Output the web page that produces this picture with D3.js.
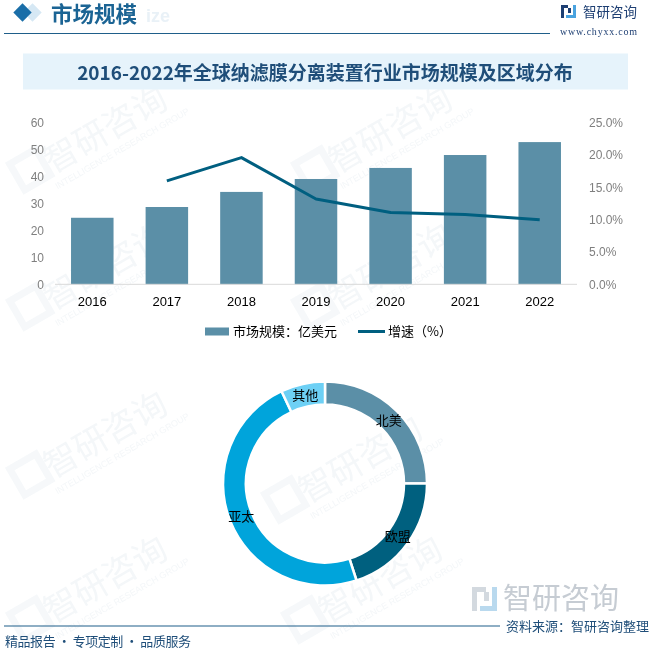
<!DOCTYPE html>
<html><head><meta charset="utf-8">
<script src="https://cdn.jsdelivr.net/npm/d3@7"></script>
<style>
html,body{margin:0;padding:0;background:#fff;}
svg{display:block;}
</style></head>
<body>
<script>
// ---- data ----
const years = ["2016","2017","2018","2019","2020","2021","2022"];
const marketSize = [24.7, 28.7, 34.3, 39.1, 43.2, 48.0, 52.8];   // 亿美元
const growth = [null, 16.0, 19.6, 13.2, 11.1, 10.8, 10.0];        // %
const leftTicks = [0,10,20,30,40,50,60];
const rightTicks = [0,5,10,15,20,25];
const regions = ["北美","欧盟","亚太","其他"];
const regionShare = [25, 20, 48, 7];
const regionColors = ["#5b8fa7","#00607f","#00a4db","#6dd0f5"];

const W = 652, H = 651;
const svg = d3.select("body").append("svg").attr("width", W).attr("height", H);
const CJK = "'Noto Sans CJK SC','Noto Sans',sans-serif";

// ---- watermark ----
const wm = svg.append("g").attr("opacity", 0.45);
const wmPos = [[120,135],[405,135],[120,272],[405,272],[375,465],[120,440],[120,585],[395,585]];
wmPos.forEach(([x,y])=>{
  const g = wm.append("g").attr("transform",`translate(${x},${y}) rotate(-30)`);
  g.append("text").attr("x",-10).attr("y",0).attr("font-family",CJK).attr("font-size",34)
   .attr("fill","#e6ecf1").attr("text-anchor","middle").text("智研咨询");
  g.append("text").attr("x",-5).attr("y",16).attr("font-family","Liberation Sans").attr("font-size",9)
   .attr("fill","#e6ecf1").attr("text-anchor","middle").text("INTELLIGENCE RESEARCH GROUP");
  g.append("rect").attr("x",-110).attr("y",-30).attr("width",30).attr("height",30).attr("fill","none")
   .attr("stroke","#eaf0f4").attr("stroke-width",7);
});

// ---- header ----
svg.append("rect").attr("x",26).attr("y",6).attr("width",13).attr("height",13)
  .attr("transform","rotate(45 32.5 12.5)").attr("fill","#d6e8f4");
svg.append("rect").attr("x",16).attr("y",6).attr("width",13).attr("height",13)
  .attr("transform","rotate(45 22.5 12.5)").attr("fill","#1a6ea8");
svg.append("text").attr("x",146).attr("y",22).attr("font-family","Liberation Sans").attr("font-weight","bold")
  .attr("font-size",18).attr("fill","#e9f1f7").text("ize");
svg.append("text").attr("x",51).attr("y",22).attr("font-family",CJK).attr("font-weight","bold")
  .attr("font-size",21.5).attr("fill","#1b6494").text("市场规模");
svg.append("line").attr("x1",4).attr("x2",550).attr("y1",33.5).attr("y2",33.5)
  .attr("stroke","#1f5f8a").attr("stroke-width",1.2);
// logo top right
const lg = svg.append("g");
lg.append("rect").attr("x",561).attr("y",5).attr("width",7).attr("height",3).attr("fill","#1e3f73");
lg.append("rect").attr("x",561).attr("y",5).attr("width",3).attr("height",13).attr("fill","#1e3f73");
lg.append("rect").attr("x",568).attr("y",8).attr("width",3).attr("height",5).attr("fill","#1e3f73");
lg.append("rect").attr("x",573).attr("y",5).attr("width",3).attr("height",13).attr("fill","#4aa3df");
lg.append("rect").attr("x",566).attr("y",15).attr("width",10).attr("height",3).attr("fill","#4aa3df");
svg.append("text").attr("x",583).attr("y",17).attr("font-family",CJK).attr("font-size",13.5)
  .attr("fill","#1e3f73").text("智研咨询");
svg.append("text").attr("x",560).attr("y",35).attr("font-family","'Liberation Serif',serif").attr("font-size",10)
  .attr("fill","#1e3f73").attr("textLength",77).text("www.chyxx.com");

// ---- title banner ----
svg.append("rect").attr("x",23).attr("y",53.5).attr("width",605).attr("height",36).attr("fill","#e6f3fb");
svg.append("text").attr("x",325).attr("y",79.5).attr("text-anchor","middle").attr("font-family",CJK)
  .attr("font-weight","bold").attr("font-size",19).attr("fill","#1f4e79")
  .text("2016-2022年全球纳滤膜分离装置行业市场规模及区域分布");

// ---- combo chart ----
const x = d3.scaleBand().domain(years).range([55,577]).paddingInner(0.43).paddingOuter(0.215);
const yL = d3.scaleLinear().domain([0,60]).range([284.3,122.7]);
const yR = d3.scaleLinear().domain([0,25]).range([284.3,122.7]);

svg.append("g").selectAll("rect").data(marketSize).join("rect")
  .attr("x",(d,i)=>x(years[i])).attr("width",x.bandwidth())
  .attr("y",d=>yL(d)).attr("height",d=>yL(0)-yL(d)).attr("fill","#5b8fa7");

svg.append("line").attr("x1",55).attr("x2",577).attr("y1",yL(0)).attr("y2",yL(0))
  .attr("stroke","#d9d9d9").attr("stroke-width",1);

const axL = svg.append("g").attr("transform","translate(44,0)")
  .call(d3.axisLeft(yL).tickValues(leftTicks).tickSize(0).tickPadding(0));
axL.select(".domain").remove();
axL.selectAll("text").attr("font-family","'Liberation Sans',sans-serif").attr("font-size",12).attr("fill","#7f7f7f");

const axR = svg.append("g").attr("transform","translate(589,0)")
  .call(d3.axisRight(yR).tickValues(rightTicks).tickSize(0).tickPadding(0).tickFormat(d=>d.toFixed(1)+"%"));
axR.select(".domain").remove();
axR.selectAll("text").attr("font-family","'Liberation Sans',sans-serif").attr("font-size",12).attr("fill","#7f7f7f");

const axB = svg.append("g").attr("transform",`translate(0,${yL(0)})`)
  .call(d3.axisBottom(x).tickSize(0).tickPadding(12));
axB.select(".domain").remove();
axB.selectAll("text").attr("font-family","'Liberation Sans',sans-serif").attr("font-size",13).attr("fill","#000");

const lineGen = d3.line().defined(d=>d.v!=null).x(d=>x(d.k)+x.bandwidth()/2).y(d=>yR(d.v));
svg.append("path").datum(years.map((k,i)=>({k,v:growth[i]})))
  .attr("d",lineGen).attr("fill","none").attr("stroke","#005f80").attr("stroke-width",3)
  .attr("stroke-linejoin","round");

// legend
svg.append("rect").attr("x",205).attr("y",327.5).attr("width",24).attr("height",8).attr("fill","#5b8fa7");
svg.append("text").attr("x",233).attr("y",336).attr("font-family",CJK).attr("font-size",13).attr("fill","#000").text("市场规模：亿美元");
svg.append("line").attr("x1",358).attr("x2",385).attr("y1",331.5).attr("y2",331.5).attr("stroke","#005f80").attr("stroke-width",3);
svg.append("text").attr("x",388).attr("y",336).attr("font-family",CJK).attr("font-size",13).attr("fill","#000").text("增速（%）");

// ---- donut ----
const cx = 325, cy = 483.5;
const pie = d3.pie().sort(null).value(d=>d)(regionShare);
const arc = d3.arc().innerRadius(79).outerRadius(102);
const lblArc = d3.arc().innerRadius(90).outerRadius(90);
const dg = svg.append("g").attr("transform",`translate(${cx},${cy})`);
dg.selectAll("path").data(pie).join("path").attr("d",arc)
  .attr("fill",(d,i)=>regionColors[i]).attr("stroke","#fff").attr("stroke-width",2.5);
dg.selectAll("text").data(pie).join("text")
  .attr("transform",d=>`translate(${lblArc.centroid(d)})`).attr("text-anchor","middle").attr("dy","0.36em")
  .attr("font-family",CJK).attr("font-size",13).attr("fill","#000").text((d,i)=>regions[i]);

// ---- footer ----
const fg = svg.append("g");
fg.append("rect").attr("x",472).attr("y",587).attr("width",14).attr("height",5).attr("fill","#d3d9df");
fg.append("rect").attr("x",472).attr("y",587).attr("width",5).attr("height",24).attr("fill","#d3d9df");
fg.append("rect").attr("x",484).attr("y",592).attr("width",5).attr("height",9).attr("fill","#d3d9df");
fg.append("rect").attr("x",492).attr("y",587).attr("width",5).attr("height",24).attr("fill","#b9d9ee");
fg.append("rect").attr("x",480).attr("y",606).attr("width",17).attr("height",5).attr("fill","#b9d9ee");
svg.append("text").attr("x",503).attr("y",609).attr("font-family",CJK).attr("font-size",29)
  .attr("fill","#c6ccd3").text("智研咨询");
svg.append("line").attr("x1",4).attr("x2",500).attr("y1",626).attr("y2",626).attr("stroke","#1f5f8a").attr("stroke-width",1.2);
svg.append("text").attr("x",649).attr("y",631).attr("text-anchor","end").attr("font-family",CJK).attr("font-size",13)
  .attr("fill","#1f4e79").text("资料来源：智研咨询整理");
svg.append("text").attr("x",5).attr("y",646).attr("font-family",CJK).attr("font-size",13)
  .attr("fill","#1f4e79").attr("textLength",186).text("精品报告 · 专项定制 · 品质服务");
</script>
</body></html>
